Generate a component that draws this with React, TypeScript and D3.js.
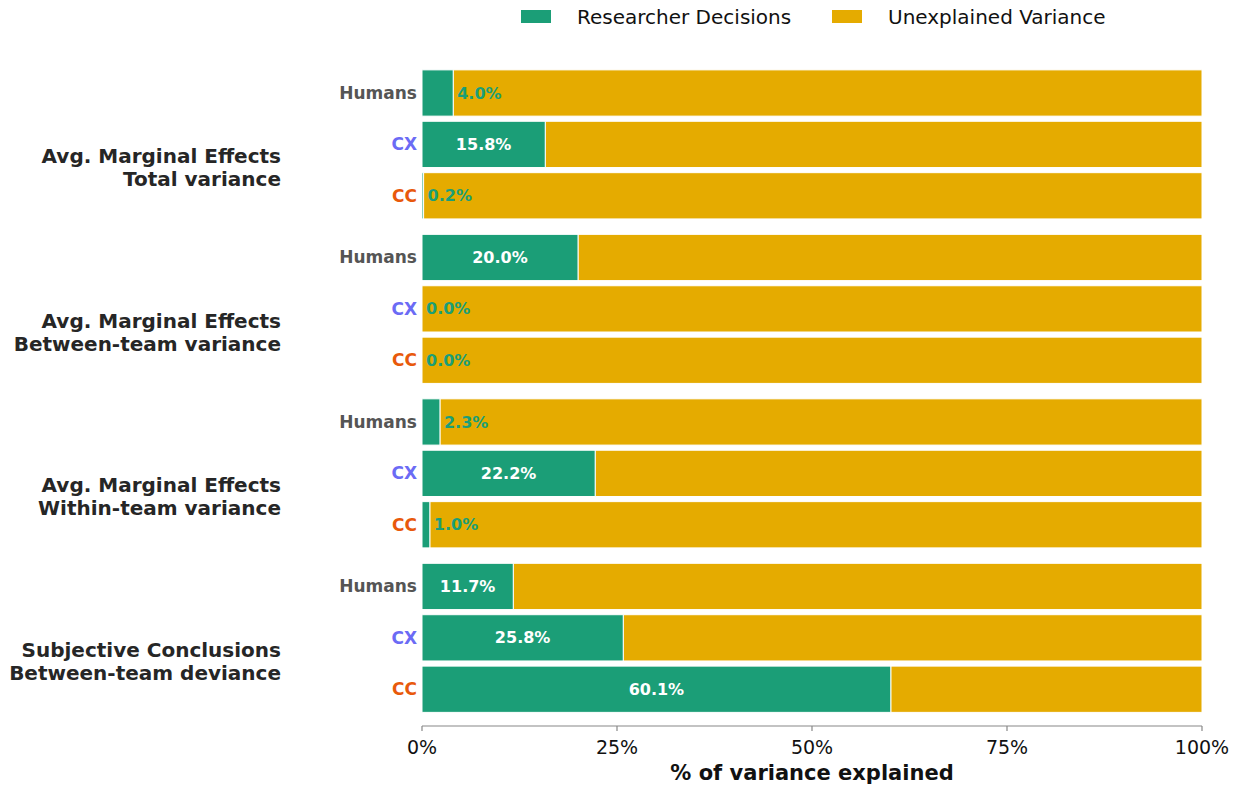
import React from "react";
import * as d3 from "d3";

const groups = [
  ["Avg. Marginal Effects", "Total variance"],
  ["Avg. Marginal Effects", "Between-team variance"],
  ["Avg. Marginal Effects", "Within-team variance"],
  ["Subjective Conclusions", "Between-team deviance"],
];
const models = ["Humans", "CX", "CC"];
const modelColors = ["#555555", "#6B6BF5", "#E8590C"];
const researcherValues = [
  [4.0, 15.8, 0.2],
  [20.0, 0.0, 0.0],
  [2.3, 22.2, 1.0],
  [11.7, 25.8, 60.1],
];
const xTicks = [0, 25, 50, 75, 100];
const seriesNames = ["Researcher Decisions", "Unexplained Variance"];
const seriesColors = ["#1B9E77", "#E5AB00"];

const W = 1239;
const H = 788;
const FONT = "'DejaVu Sans', sans-serif";

export default function App() {
  const x = d3.scaleLinear().domain([0, 100]).range([422, 1202]);
  const step = 51.4;
  const pos = (g: number, i: number) => 93 + (g * 3.2 + i) * step;
  const barH = step * 0.9;
  const axisY = 726;

  const rows: any[] = [];
  researcherValues.forEach((vals, g) =>
    vals.forEach((v, i) => rows.push({ g, i, v }))
  );

  return (
    <svg
      width={W}
      height={H}
      fontFamily={FONT}
      style={{ position: "absolute", left: 0, top: 0 }}
    >
      <rect width={W} height={H} fill="white" />
      {/* legend */}
      {seriesNames.map((s, k) => {
        const lx = [521, 832][k];
        return (
          <g key={s}>
            <rect x={lx} y={10} width={30} height={13} fill={seriesColors[k]} />
            <text x={lx + 56} y={17} dy="0.35em" fontSize={20} fill="#111">
              {s}
            </text>
          </g>
        );
      })}
      {/* bars */}
      {rows.map((r) => {
        const yc = pos(r.g, r.i);
        const y0 = yc - barH / 2;
        const inside = r.v >= 10;
        return (
          <g key={`${r.g}-${r.i}`}>
            <rect
              x={x(r.v)}
              y={y0}
              width={x(100) - x(r.v)}
              height={barH}
              fill={seriesColors[1]}
              stroke="white"
              strokeWidth={1}
            />
            <rect
              x={x(0)}
              y={y0}
              width={x(r.v) - x(0)}
              height={barH}
              fill={seriesColors[0]}
              stroke="white"
              strokeWidth={1}
            />
            <text
              x={inside ? (x(0) + x(r.v)) / 2 : x(r.v) + 4}
              y={yc}
              dy="0.35em"
              textAnchor={inside ? "middle" : "start"}
              fontSize={16}
              fontWeight="bold"
              fill={inside ? "white" : seriesColors[0]}
            >
              {r.v.toFixed(1)}%
            </text>
            <text
              x={417}
              y={yc}
              dy="0.35em"
              textAnchor="end"
              fontSize={17}
              fontWeight="bold"
              fill={modelColors[r.i]}
            >
              {models[r.i]}
            </text>
          </g>
        );
      })}
      {/* group labels */}
      {groups.map((lines, g) => {
        const yc = pos(g, 1);
        return (
          <text
            key={g}
            textAnchor="end"
            fontSize={20}
            fontWeight="bold"
            fill="#262626"
          >
            {lines.map((l, j) => (
              <tspan key={j} x={281} y={yc + 12 + j * 23} dy="0.35em">
                {l}
              </tspan>
            ))}
          </text>
        );
      })}
      {/* x axis */}
      <line x1={x(0)} x2={x(100)} y1={axisY} y2={axisY} stroke="#888" strokeWidth={1.2} />
      {xTicks.map((t) => (
        <g key={t}>
          <line x1={x(t)} x2={x(t)} y1={axisY} y2={axisY + 5} stroke="#888" strokeWidth={1.2} />
          <text x={x(t)} y={axisY + 21} dy="0.35em" textAnchor="middle" fontSize={19} fill="#111">
            {t}%
          </text>
        </g>
      ))}
      <text
        x={(x(0) + x(100)) / 2}
        y={773}
        dy="0.35em"
        textAnchor="middle"
        fontSize={21}
        fontWeight="bold"
        fill="#111"
      >
        % of variance explained
      </text>
    </svg>
  );
}
